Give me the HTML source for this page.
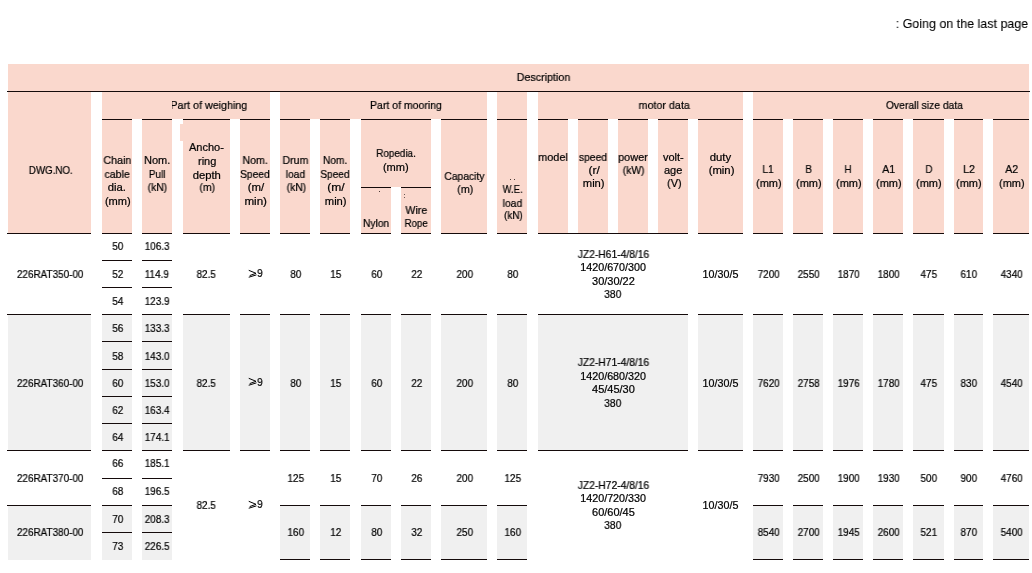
<!DOCTYPE html>
<html><head><meta charset="utf-8"><title>Table</title>
<style>
html,body{margin:0;padding:0;background:#fff;}
body{width:1032px;height:573px;position:relative;overflow:hidden;font-family:"Liberation Sans",sans-serif;color:#000;}
.r{position:absolute;}
.t{position:absolute;width:200px;height:14px;line-height:14px;text-align:center;white-space:nowrap;}
.t span{display:inline-block;transform-origin:50% 50%;will-change:transform;-webkit-text-stroke:0.22px #000;}
.tt{position:absolute;width:400px;height:18px;line-height:18px;text-align:right;white-space:nowrap;}
.tt span{display:inline-block;transform-origin:100% 50%;will-change:transform;-webkit-text-stroke:0.1px #000;}
</style></head><body>
<div class="r" style="left:7.5px;top:64px;width:1021.20px;height:27.00px;background:#fad8cd"></div>
<div class="r" style="left:6.80px;top:91px;width:1023.40px;height:1px;background:#140a0a"></div>
<div class="r" style="left:7.5px;top:92px;width:83.90px;height:141.00px;background:#fad8cd"></div>
<div class="r" style="left:102px;top:92px;width:167.70px;height:27.00px;background:#fad8cd"></div>
<div class="r" style="left:280px;top:92px;width:207.00px;height:27.00px;background:#fad8cd"></div>
<div class="r" style="left:497px;top:92px;width:30.00px;height:27.00px;background:#fad8cd"></div>
<div class="r" style="left:538px;top:92px;width:205.00px;height:27.00px;background:#fad8cd"></div>
<div class="r" style="left:753px;top:92px;width:276.00px;height:27.00px;background:#fad8cd"></div>
<div class="r" style="left:102px;top:119px;width:29.50px;height:114.00px;background:#fad8cd"></div>
<div class="r" style="left:102.00px;top:119px;width:29.50px;height:1px;background:#140a0a"></div>
<div class="r" style="left:141.5px;top:119px;width:30.50px;height:114.00px;background:#fad8cd"></div>
<div class="r" style="left:141.50px;top:119px;width:30.50px;height:1px;background:#140a0a"></div>
<div class="r" style="left:183px;top:119px;width:46.70px;height:114.00px;background:#fad8cd"></div>
<div class="r" style="left:183.00px;top:119px;width:46.70px;height:1px;background:#140a0a"></div>
<div class="r" style="left:240px;top:119px;width:29.70px;height:114.00px;background:#fad8cd"></div>
<div class="r" style="left:240.00px;top:119px;width:29.70px;height:1px;background:#140a0a"></div>
<div class="r" style="left:280px;top:119px;width:30.00px;height:114.00px;background:#fad8cd"></div>
<div class="r" style="left:280.00px;top:119px;width:30.00px;height:1px;background:#140a0a"></div>
<div class="r" style="left:320px;top:119px;width:30.00px;height:114.00px;background:#fad8cd"></div>
<div class="r" style="left:320.00px;top:119px;width:30.00px;height:1px;background:#140a0a"></div>
<div class="r" style="left:441px;top:119px;width:46.00px;height:114.00px;background:#fad8cd"></div>
<div class="r" style="left:441.00px;top:119px;width:46.00px;height:1px;background:#140a0a"></div>
<div class="r" style="left:497px;top:119px;width:30.00px;height:114.00px;background:#fad8cd"></div>
<div class="r" style="left:497.00px;top:119px;width:30.00px;height:1px;background:#140a0a"></div>
<div class="r" style="left:538px;top:119px;width:30.00px;height:114.00px;background:#fad8cd"></div>
<div class="r" style="left:538.00px;top:119px;width:30.00px;height:1px;background:#140a0a"></div>
<div class="r" style="left:578px;top:119px;width:30.00px;height:114.00px;background:#fad8cd"></div>
<div class="r" style="left:578.00px;top:119px;width:30.00px;height:1px;background:#140a0a"></div>
<div class="r" style="left:618px;top:119px;width:30.00px;height:114.00px;background:#fad8cd"></div>
<div class="r" style="left:618.00px;top:119px;width:30.00px;height:1px;background:#140a0a"></div>
<div class="r" style="left:658px;top:119px;width:30.00px;height:114.00px;background:#fad8cd"></div>
<div class="r" style="left:658.00px;top:119px;width:30.00px;height:1px;background:#140a0a"></div>
<div class="r" style="left:698px;top:119px;width:45.00px;height:114.00px;background:#fad8cd"></div>
<div class="r" style="left:698.00px;top:119px;width:45.00px;height:1px;background:#140a0a"></div>
<div class="r" style="left:753px;top:119px;width:30.00px;height:114.00px;background:#fad8cd"></div>
<div class="r" style="left:753.00px;top:119px;width:30.00px;height:1px;background:#140a0a"></div>
<div class="r" style="left:793px;top:119px;width:30.00px;height:114.00px;background:#fad8cd"></div>
<div class="r" style="left:793.00px;top:119px;width:30.00px;height:1px;background:#140a0a"></div>
<div class="r" style="left:833px;top:119px;width:30.00px;height:114.00px;background:#fad8cd"></div>
<div class="r" style="left:833.00px;top:119px;width:30.00px;height:1px;background:#140a0a"></div>
<div class="r" style="left:873px;top:119px;width:30.00px;height:114.00px;background:#fad8cd"></div>
<div class="r" style="left:873.00px;top:119px;width:30.00px;height:1px;background:#140a0a"></div>
<div class="r" style="left:913px;top:119px;width:31.00px;height:114.00px;background:#fad8cd"></div>
<div class="r" style="left:913.00px;top:119px;width:31.00px;height:1px;background:#140a0a"></div>
<div class="r" style="left:954px;top:119px;width:29.00px;height:114.00px;background:#fad8cd"></div>
<div class="r" style="left:954.00px;top:119px;width:29.00px;height:1px;background:#140a0a"></div>
<div class="r" style="left:993.2px;top:119px;width:35.80px;height:114.00px;background:#fad8cd"></div>
<div class="r" style="left:993.20px;top:119px;width:35.80px;height:1px;background:#140a0a"></div>
<div class="r" style="left:361px;top:119px;width:70.00px;height:68.00px;background:#fad8cd"></div>
<div class="r" style="left:361.00px;top:119px;width:70.00px;height:1px;background:#140a0a"></div>
<div class="r" style="left:361px;top:187px;width:30.00px;height:46.00px;background:#fad8cd"></div>
<div class="r" style="left:361.00px;top:187px;width:30.00px;height:1px;background:#140a0a"></div>
<div class="r" style="left:401px;top:187px;width:30.00px;height:46.00px;background:#fad8cd"></div>
<div class="r" style="left:401.00px;top:187px;width:30.00px;height:1px;background:#140a0a"></div>
<div class="r" style="left:180px;top:123.5px;width:49.80px;height:17.00px;background:#fad8cd"></div>
<div class="r" style="left:509.6px;top:179px;width:1px;height:1px;background:#4a3a36"></div>
<div class="r" style="left:513.6px;top:179px;width:1px;height:1px;background:#4a3a36"></div>
<div class="r" style="left:379.3px;top:191px;width:1px;height:1px;background:#4a3a36"></div>
<div class="r" style="left:403.7px;top:194px;width:1px;height:1px;background:#6a5a56"></div>
<div class="r" style="left:403.7px;top:196.5px;width:1px;height:1px;background:#6a5a56"></div>
<div class="r" style="left:7.5px;top:314px;width:83.90px;height:136.00px;background:#f0f0f0"></div>
<div class="r" style="left:102px;top:314px;width:29.50px;height:136.00px;background:#f0f0f0"></div>
<div class="r" style="left:141.5px;top:314px;width:30.50px;height:136.00px;background:#f0f0f0"></div>
<div class="r" style="left:183px;top:314px;width:46.70px;height:136.00px;background:#f0f0f0"></div>
<div class="r" style="left:240px;top:314px;width:29.70px;height:136.00px;background:#f0f0f0"></div>
<div class="r" style="left:280px;top:314px;width:30.00px;height:136.00px;background:#f0f0f0"></div>
<div class="r" style="left:320px;top:314px;width:30.00px;height:136.00px;background:#f0f0f0"></div>
<div class="r" style="left:361px;top:314px;width:30.00px;height:136.00px;background:#f0f0f0"></div>
<div class="r" style="left:401px;top:314px;width:30.00px;height:136.00px;background:#f0f0f0"></div>
<div class="r" style="left:441px;top:314px;width:46.00px;height:136.00px;background:#f0f0f0"></div>
<div class="r" style="left:497px;top:314px;width:30.00px;height:136.00px;background:#f0f0f0"></div>
<div class="r" style="left:698px;top:314px;width:45.00px;height:136.00px;background:#f0f0f0"></div>
<div class="r" style="left:753px;top:314px;width:30.00px;height:136.00px;background:#f0f0f0"></div>
<div class="r" style="left:793px;top:314px;width:30.00px;height:136.00px;background:#f0f0f0"></div>
<div class="r" style="left:833px;top:314px;width:30.00px;height:136.00px;background:#f0f0f0"></div>
<div class="r" style="left:873px;top:314px;width:30.00px;height:136.00px;background:#f0f0f0"></div>
<div class="r" style="left:913px;top:314px;width:31.00px;height:136.00px;background:#f0f0f0"></div>
<div class="r" style="left:954px;top:314px;width:29.00px;height:136.00px;background:#f0f0f0"></div>
<div class="r" style="left:993.2px;top:314px;width:35.80px;height:136.00px;background:#f0f0f0"></div>
<div class="r" style="left:538px;top:314px;width:150.00px;height:136.00px;background:#f0f0f0"></div>
<div class="r" style="left:7.5px;top:505px;width:83.90px;height:55.00px;background:#f0f0f0"></div>
<div class="r" style="left:102px;top:505px;width:29.50px;height:55.00px;background:#f0f0f0"></div>
<div class="r" style="left:141.5px;top:505px;width:30.50px;height:55.00px;background:#f0f0f0"></div>
<div class="r" style="left:280px;top:505px;width:30.00px;height:54.00px;background:#f0f0f0"></div>
<div class="r" style="left:320px;top:505px;width:30.00px;height:54.00px;background:#f0f0f0"></div>
<div class="r" style="left:361px;top:505px;width:30.00px;height:54.00px;background:#f0f0f0"></div>
<div class="r" style="left:401px;top:505px;width:30.00px;height:54.00px;background:#f0f0f0"></div>
<div class="r" style="left:441px;top:505px;width:46.00px;height:54.00px;background:#f0f0f0"></div>
<div class="r" style="left:497px;top:505px;width:30.00px;height:54.00px;background:#f0f0f0"></div>
<div class="r" style="left:753px;top:505px;width:30.00px;height:54.00px;background:#f0f0f0"></div>
<div class="r" style="left:793px;top:505px;width:30.00px;height:54.00px;background:#f0f0f0"></div>
<div class="r" style="left:833px;top:505px;width:30.00px;height:54.00px;background:#f0f0f0"></div>
<div class="r" style="left:873px;top:505px;width:30.00px;height:54.00px;background:#f0f0f0"></div>
<div class="r" style="left:913px;top:505px;width:31.00px;height:54.00px;background:#f0f0f0"></div>
<div class="r" style="left:954px;top:505px;width:29.00px;height:54.00px;background:#f0f0f0"></div>
<div class="r" style="left:993.2px;top:505px;width:35.80px;height:54.00px;background:#f0f0f0"></div>
<div class="r" style="left:6.60px;top:233px;width:84.80px;height:1px;background:#140a0a"></div>
<div class="r" style="left:102.00px;top:233px;width:29.50px;height:1px;background:#140a0a"></div>
<div class="r" style="left:141.50px;top:233px;width:30.50px;height:1px;background:#140a0a"></div>
<div class="r" style="left:183.00px;top:233px;width:46.70px;height:1px;background:#140a0a"></div>
<div class="r" style="left:240.00px;top:233px;width:29.70px;height:1px;background:#140a0a"></div>
<div class="r" style="left:280.00px;top:233px;width:30.00px;height:1px;background:#140a0a"></div>
<div class="r" style="left:320.00px;top:233px;width:30.00px;height:1px;background:#140a0a"></div>
<div class="r" style="left:361.00px;top:233px;width:30.00px;height:1px;background:#140a0a"></div>
<div class="r" style="left:401.00px;top:233px;width:30.00px;height:1px;background:#140a0a"></div>
<div class="r" style="left:441.00px;top:233px;width:46.00px;height:1px;background:#140a0a"></div>
<div class="r" style="left:497.00px;top:233px;width:30.00px;height:1px;background:#140a0a"></div>
<div class="r" style="left:698.00px;top:233px;width:45.00px;height:1px;background:#140a0a"></div>
<div class="r" style="left:753.00px;top:233px;width:30.00px;height:1px;background:#140a0a"></div>
<div class="r" style="left:793.00px;top:233px;width:30.00px;height:1px;background:#140a0a"></div>
<div class="r" style="left:833.00px;top:233px;width:30.00px;height:1px;background:#140a0a"></div>
<div class="r" style="left:873.00px;top:233px;width:30.00px;height:1px;background:#140a0a"></div>
<div class="r" style="left:913.00px;top:233px;width:31.00px;height:1px;background:#140a0a"></div>
<div class="r" style="left:954.00px;top:233px;width:29.00px;height:1px;background:#140a0a"></div>
<div class="r" style="left:993.20px;top:233px;width:35.80px;height:1px;background:#140a0a"></div>
<div class="r" style="left:538.00px;top:233px;width:150.00px;height:1px;background:#140a0a"></div>
<div class="r" style="left:6.60px;top:314px;width:84.80px;height:1px;background:#140a0a"></div>
<div class="r" style="left:102.00px;top:314px;width:29.50px;height:1px;background:#140a0a"></div>
<div class="r" style="left:141.50px;top:314px;width:30.50px;height:1px;background:#140a0a"></div>
<div class="r" style="left:183.00px;top:314px;width:46.70px;height:1px;background:#140a0a"></div>
<div class="r" style="left:240.00px;top:314px;width:29.70px;height:1px;background:#140a0a"></div>
<div class="r" style="left:280.00px;top:314px;width:30.00px;height:1px;background:#140a0a"></div>
<div class="r" style="left:320.00px;top:314px;width:30.00px;height:1px;background:#140a0a"></div>
<div class="r" style="left:361.00px;top:314px;width:30.00px;height:1px;background:#140a0a"></div>
<div class="r" style="left:401.00px;top:314px;width:30.00px;height:1px;background:#140a0a"></div>
<div class="r" style="left:441.00px;top:314px;width:46.00px;height:1px;background:#140a0a"></div>
<div class="r" style="left:497.00px;top:314px;width:30.00px;height:1px;background:#140a0a"></div>
<div class="r" style="left:698.00px;top:314px;width:45.00px;height:1px;background:#140a0a"></div>
<div class="r" style="left:753.00px;top:314px;width:30.00px;height:1px;background:#140a0a"></div>
<div class="r" style="left:793.00px;top:314px;width:30.00px;height:1px;background:#140a0a"></div>
<div class="r" style="left:833.00px;top:314px;width:30.00px;height:1px;background:#140a0a"></div>
<div class="r" style="left:873.00px;top:314px;width:30.00px;height:1px;background:#140a0a"></div>
<div class="r" style="left:913.00px;top:314px;width:31.00px;height:1px;background:#140a0a"></div>
<div class="r" style="left:954.00px;top:314px;width:29.00px;height:1px;background:#140a0a"></div>
<div class="r" style="left:993.20px;top:314px;width:35.80px;height:1px;background:#140a0a"></div>
<div class="r" style="left:538.00px;top:314px;width:150.00px;height:1px;background:#140a0a"></div>
<div class="r" style="left:6.60px;top:450px;width:84.80px;height:1px;background:#140a0a"></div>
<div class="r" style="left:102.00px;top:450px;width:29.50px;height:1px;background:#140a0a"></div>
<div class="r" style="left:141.50px;top:450px;width:30.50px;height:1px;background:#140a0a"></div>
<div class="r" style="left:183.00px;top:450px;width:46.70px;height:1px;background:#140a0a"></div>
<div class="r" style="left:240.00px;top:450px;width:29.70px;height:1px;background:#140a0a"></div>
<div class="r" style="left:280.00px;top:450px;width:30.00px;height:1px;background:#140a0a"></div>
<div class="r" style="left:320.00px;top:450px;width:30.00px;height:1px;background:#140a0a"></div>
<div class="r" style="left:361.00px;top:450px;width:30.00px;height:1px;background:#140a0a"></div>
<div class="r" style="left:401.00px;top:450px;width:30.00px;height:1px;background:#140a0a"></div>
<div class="r" style="left:441.00px;top:450px;width:46.00px;height:1px;background:#140a0a"></div>
<div class="r" style="left:497.00px;top:450px;width:30.00px;height:1px;background:#140a0a"></div>
<div class="r" style="left:698.00px;top:450px;width:45.00px;height:1px;background:#140a0a"></div>
<div class="r" style="left:753.00px;top:450px;width:30.00px;height:1px;background:#140a0a"></div>
<div class="r" style="left:793.00px;top:450px;width:30.00px;height:1px;background:#140a0a"></div>
<div class="r" style="left:833.00px;top:450px;width:30.00px;height:1px;background:#140a0a"></div>
<div class="r" style="left:873.00px;top:450px;width:30.00px;height:1px;background:#140a0a"></div>
<div class="r" style="left:913.00px;top:450px;width:31.00px;height:1px;background:#140a0a"></div>
<div class="r" style="left:954.00px;top:450px;width:29.00px;height:1px;background:#140a0a"></div>
<div class="r" style="left:993.20px;top:450px;width:35.80px;height:1px;background:#140a0a"></div>
<div class="r" style="left:538.00px;top:450px;width:150.00px;height:1px;background:#140a0a"></div>
<div class="r" style="left:102.00px;top:260px;width:29.50px;height:1px;background:#140a0a"></div>
<div class="r" style="left:141.50px;top:260px;width:30.50px;height:1px;background:#140a0a"></div>
<div class="r" style="left:102.00px;top:287px;width:29.50px;height:1px;background:#140a0a"></div>
<div class="r" style="left:141.50px;top:287px;width:30.50px;height:1px;background:#140a0a"></div>
<div class="r" style="left:102.00px;top:341px;width:29.50px;height:1px;background:#140a0a"></div>
<div class="r" style="left:141.50px;top:341px;width:30.50px;height:1px;background:#140a0a"></div>
<div class="r" style="left:102.00px;top:369px;width:29.50px;height:1px;background:#140a0a"></div>
<div class="r" style="left:141.50px;top:369px;width:30.50px;height:1px;background:#140a0a"></div>
<div class="r" style="left:102.00px;top:396px;width:29.50px;height:1px;background:#140a0a"></div>
<div class="r" style="left:141.50px;top:396px;width:30.50px;height:1px;background:#140a0a"></div>
<div class="r" style="left:102.00px;top:423px;width:29.50px;height:1px;background:#140a0a"></div>
<div class="r" style="left:141.50px;top:423px;width:30.50px;height:1px;background:#140a0a"></div>
<div class="r" style="left:102.00px;top:478px;width:29.50px;height:1px;background:#140a0a"></div>
<div class="r" style="left:141.50px;top:478px;width:30.50px;height:1px;background:#140a0a"></div>
<div class="r" style="left:102.00px;top:532px;width:29.50px;height:1px;background:#140a0a"></div>
<div class="r" style="left:141.50px;top:532px;width:30.50px;height:1px;background:#140a0a"></div>
<div class="r" style="left:6.60px;top:505px;width:84.80px;height:1px;background:#140a0a"></div>
<div class="r" style="left:102.00px;top:505px;width:29.50px;height:1px;background:#140a0a"></div>
<div class="r" style="left:141.50px;top:505px;width:30.50px;height:1px;background:#140a0a"></div>
<div class="r" style="left:280.00px;top:505px;width:30.00px;height:1px;background:#140a0a"></div>
<div class="r" style="left:320.00px;top:505px;width:30.00px;height:1px;background:#140a0a"></div>
<div class="r" style="left:361.00px;top:505px;width:30.00px;height:1px;background:#140a0a"></div>
<div class="r" style="left:401.00px;top:505px;width:30.00px;height:1px;background:#140a0a"></div>
<div class="r" style="left:441.00px;top:505px;width:46.00px;height:1px;background:#140a0a"></div>
<div class="r" style="left:497.00px;top:505px;width:30.00px;height:1px;background:#140a0a"></div>
<div class="r" style="left:753.00px;top:505px;width:30.00px;height:1px;background:#140a0a"></div>
<div class="r" style="left:793.00px;top:505px;width:30.00px;height:1px;background:#140a0a"></div>
<div class="r" style="left:833.00px;top:505px;width:30.00px;height:1px;background:#140a0a"></div>
<div class="r" style="left:873.00px;top:505px;width:30.00px;height:1px;background:#140a0a"></div>
<div class="r" style="left:913.00px;top:505px;width:31.00px;height:1px;background:#140a0a"></div>
<div class="r" style="left:954.00px;top:505px;width:29.00px;height:1px;background:#140a0a"></div>
<div class="r" style="left:993.20px;top:505px;width:35.80px;height:1px;background:#140a0a"></div>
<div class="r" style="left:280.00px;top:559px;width:30.00px;height:1px;background:#140a0a"></div>
<div class="r" style="left:320.00px;top:559px;width:30.00px;height:1px;background:#140a0a"></div>
<div class="r" style="left:361.00px;top:559px;width:30.00px;height:1px;background:#140a0a"></div>
<div class="r" style="left:401.00px;top:559px;width:30.00px;height:1px;background:#140a0a"></div>
<div class="r" style="left:441.00px;top:559px;width:46.00px;height:1px;background:#140a0a"></div>
<div class="r" style="left:497.00px;top:559px;width:30.00px;height:1px;background:#140a0a"></div>
<div class="r" style="left:753.00px;top:559px;width:30.00px;height:1px;background:#140a0a"></div>
<div class="r" style="left:793.00px;top:559px;width:30.00px;height:1px;background:#140a0a"></div>
<div class="r" style="left:833.00px;top:559px;width:30.00px;height:1px;background:#140a0a"></div>
<div class="r" style="left:873.00px;top:559px;width:30.00px;height:1px;background:#140a0a"></div>
<div class="r" style="left:913.00px;top:559px;width:31.00px;height:1px;background:#140a0a"></div>
<div class="r" style="left:954.00px;top:559px;width:29.00px;height:1px;background:#140a0a"></div>
<div class="r" style="left:993.20px;top:559px;width:35.80px;height:1px;background:#140a0a"></div>
<div class="t" id="t0" style="left:443.00px;top:69.90px;font-size:11.4px;"><span style="transform:scaleX(0.9389)">Description</span></div>
<div class="t" id="t1" style="left:-49.00px;top:162.60px;font-size:11px;"><span style="transform:scaleX(0.8848)">DWG.NO.</span></div>
<div class="t" id="t2" style="left:108.60px;top:98.00px;font-size:11.4px;"><span style="transform:scaleX(0.9402)">Part of weighing</span></div>
<div class="t" id="t3" style="left:306.20px;top:97.90px;font-size:11.4px;"><span style="transform:scaleX(0.9220)">Part of mooring</span></div>
<div class="t" id="t4" style="left:563.75px;top:97.90px;font-size:11.4px;"><span style="transform:scaleX(0.9421)">motor data</span></div>
<div class="t" id="t5" style="left:824.00px;top:97.80px;font-size:11.4px;"><span style="transform:scaleX(0.9081)">Overall size data</span></div>
<div class="t" id="t6" style="left:17.15px;top:153.30px;font-size:11px;"><span style="transform:scaleX(0.9704)">Chain</span></div>
<div class="t" id="t7" style="left:17.15px;top:167.10px;font-size:11px;"><span style="transform:scaleX(0.9583)">cable</span></div>
<div class="t" id="t8" style="left:17.15px;top:180.30px;font-size:11px;"><span style="transform:scaleX(1.0254)">dia.</span></div>
<div class="t" id="t9" style="left:17.65px;top:194.20px;font-size:11px;"><span style="transform:scaleX(1.0056)">(mm)</span></div>
<div class="t" id="t10" style="left:57.15px;top:153.30px;font-size:11px;"><span style="transform:scaleX(0.9931)">Nom.</span></div>
<div class="t" id="t11" style="left:57.15px;top:166.80px;font-size:11px;"><span style="transform:scaleX(0.8995)">Pull</span></div>
<div class="t" id="t12" style="left:57.65px;top:180.00px;font-size:11px;"><span style="transform:scaleX(0.9383)">(kN)</span></div>
<div class="t" id="t13" style="left:106.75px;top:140.20px;font-size:11px;"><span style="transform:scaleX(0.9983)">Ancho-</span></div>
<div class="t" id="t14" style="left:106.75px;top:154.20px;font-size:11px;"><span style="transform:scaleX(0.9976)">ring</span></div>
<div class="t" id="t15" style="left:106.75px;top:167.60px;font-size:11px;"><span style="transform:scaleX(1.0243)">depth</span></div>
<div class="t" id="t16" style="left:107.25px;top:180.00px;font-size:11px;"><span style="transform:scaleX(0.9455)">(m)</span></div>
<div class="t" id="t17" style="left:155.25px;top:153.30px;font-size:11px;"><span style="transform:scaleX(0.9589)">Nom.</span></div>
<div class="t" id="t18" style="left:155.25px;top:166.90px;font-size:11px;"><span style="transform:scaleX(0.9305)">Speed</span></div>
<div class="t" id="t19" style="left:155.75px;top:180.00px;font-size:11px;"><span style="transform:scaleX(1.0383)">(m/</span></div>
<div class="t" id="t20" style="left:155.25px;top:194.00px;font-size:11px;"><span style="transform:scaleX(1.0565)">min)</span></div>
<div class="t" id="t21" style="left:195.40px;top:153.30px;font-size:11px;"><span style="transform:scaleX(0.9594)">Drum</span></div>
<div class="t" id="t22" style="left:195.40px;top:166.80px;font-size:11px;"><span style="transform:scaleX(0.9280)">load</span></div>
<div class="t" id="t23" style="left:195.90px;top:180.00px;font-size:11px;"><span style="transform:scaleX(0.9383)">(kN)</span></div>
<div class="t" id="t24" style="left:235.40px;top:153.30px;font-size:11px;"><span style="transform:scaleX(0.9246)">Nom.</span></div>
<div class="t" id="t25" style="left:235.40px;top:167.20px;font-size:11px;"><span style="transform:scaleX(0.9147)">Speed</span></div>
<div class="t" id="t26" style="left:235.90px;top:180.00px;font-size:11px;"><span style="transform:scaleX(1.0950)">(m/</span></div>
<div class="t" id="t27" style="left:235.40px;top:194.00px;font-size:11px;"><span style="transform:scaleX(1.0191)">min)</span></div>
<div class="t" id="t28" style="left:276.40px;top:216.10px;font-size:11px;"><span style="transform:scaleX(0.9280)">Nylon</span></div>
<div class="t" id="t29" style="left:316.40px;top:203.40px;font-size:11px;"><span style="transform:scaleX(0.9642)">Wire</span></div>
<div class="t" id="t30" style="left:316.40px;top:216.10px;font-size:11px;"><span style="transform:scaleX(0.8784)">Rope</span></div>
<div class="t" id="t31" style="left:364.40px;top:169.40px;font-size:11px;"><span style="transform:scaleX(0.9370)">Capacity</span></div>
<div class="t" id="t32" style="left:364.90px;top:181.80px;font-size:11px;"><span style="transform:scaleX(0.9697)">(m)</span></div>
<div class="t" id="t33" style="left:412.40px;top:182.30px;font-size:11px;"><span style="transform:scaleX(0.8608)">W.E.</span></div>
<div class="t" id="t34" style="left:412.40px;top:196.00px;font-size:11px;"><span style="transform:scaleX(0.9376)">load</span></div>
<div class="t" id="t35" style="left:412.90px;top:208.40px;font-size:11px;"><span style="transform:scaleX(0.9047)">(kN)</span></div>
<div class="t" id="t36" style="left:453.40px;top:149.80px;font-size:11px;"><span style="transform:scaleX(0.9877)">model</span></div>
<div class="t" id="t37" style="left:493.40px;top:149.80px;font-size:11px;"><span style="transform:scaleX(0.9405)">speed</span></div>
<div class="t" id="t38" style="left:493.90px;top:162.70px;font-size:11px;"><span style="transform:scaleX(1.0875)">(r/</span></div>
<div class="t" id="t39" style="left:493.40px;top:176.00px;font-size:11px;"><span style="transform:scaleX(1.0191)">min)</span></div>
<div class="t" id="t40" style="left:533.40px;top:149.80px;font-size:11px;"><span style="transform:scaleX(0.9877)">power</span></div>
<div class="t" id="t41" style="left:533.90px;top:162.70px;font-size:11px;"><span style="transform:scaleX(0.9389)">(kW)</span></div>
<div class="t" id="t42" style="left:573.40px;top:149.80px;font-size:11px;"><span style="transform:scaleX(1.0009)">volt-</span></div>
<div class="t" id="t43" style="left:573.40px;top:163.00px;font-size:11px;"><span style="transform:scaleX(0.9968)">age</span></div>
<div class="t" id="t44" style="left:573.90px;top:175.70px;font-size:11px;"><span style="transform:scaleX(0.9815)">(V)</span></div>
<div class="t" id="t45" style="left:620.90px;top:149.80px;font-size:11px;"><span style="transform:scaleX(1.0290)">duty</span></div>
<div class="t" id="t46" style="left:621.40px;top:162.70px;font-size:11px;"><span style="transform:scaleX(1.0294)">(min)</span></div>
<div class="t" id="t47" style="left:296.00px;top:146.30px;font-size:11px;"><span style="transform:scaleX(0.8968)">Ropedia.</span></div>
<div class="t" id="t48" style="left:296.00px;top:159.80px;font-size:11px;"><span style="transform:scaleX(1.0056)">(mm)</span></div>
<div class="t" id="t49" style="left:668.30px;top:161.90px;font-size:11px;"><span style="transform:scaleX(0.9224)">L1</span></div>
<div class="t" id="t50" style="left:668.50px;top:176.20px;font-size:11px;"><span style="transform:scaleX(0.9900)">(mm)</span></div>
<div class="t" id="t51" style="left:708.30px;top:161.90px;font-size:11px;"><span style="transform:scaleX(0.8715)">B</span></div>
<div class="t" id="t52" style="left:708.50px;top:176.20px;font-size:11px;"><span style="transform:scaleX(0.9900)">(mm)</span></div>
<div class="t" id="t53" style="left:748.30px;top:161.90px;font-size:11px;"><span style="transform:scaleX(0.8676)">H</span></div>
<div class="t" id="t54" style="left:748.50px;top:176.20px;font-size:11px;"><span style="transform:scaleX(0.9900)">(mm)</span></div>
<div class="t" id="t55" style="left:788.30px;top:161.90px;font-size:11px;"><span style="transform:scaleX(0.9652)">A1</span></div>
<div class="t" id="t56" style="left:788.50px;top:176.20px;font-size:11px;"><span style="transform:scaleX(0.9900)">(mm)</span></div>
<div class="t" id="t57" style="left:828.80px;top:161.90px;font-size:11px;"><span style="transform:scaleX(0.8676)">D</span></div>
<div class="t" id="t58" style="left:829.00px;top:176.20px;font-size:11px;"><span style="transform:scaleX(0.9900)">(mm)</span></div>
<div class="t" id="t59" style="left:868.80px;top:161.90px;font-size:11px;"><span style="transform:scaleX(0.9633)">L2</span></div>
<div class="t" id="t60" style="left:869.00px;top:176.20px;font-size:11px;"><span style="transform:scaleX(0.9900)">(mm)</span></div>
<div class="t" id="t61" style="left:911.40px;top:161.90px;font-size:11px;"><span style="transform:scaleX(0.9652)">A2</span></div>
<div class="t" id="t62" style="left:911.60px;top:176.20px;font-size:11px;"><span style="transform:scaleX(0.9900)">(mm)</span></div>
<div class="t" id="t63" style="left:17.35px;top:238.90px;font-size:10.5px;"><span style="transform:scaleX(0.9400)">50</span></div>
<div class="t" id="t64" style="left:57.15px;top:238.90px;font-size:10.5px;"><span style="transform:scaleX(0.9400)">106.3</span></div>
<div class="t" id="t65" style="left:17.35px;top:267.00px;font-size:10.5px;"><span style="transform:scaleX(0.9400)">52</span></div>
<div class="t" id="t66" style="left:57.15px;top:267.00px;font-size:10.5px;"><span style="transform:scaleX(0.9400)">114.9</span></div>
<div class="t" id="t67" style="left:17.35px;top:294.00px;font-size:10.5px;"><span style="transform:scaleX(0.9400)">54</span></div>
<div class="t" id="t68" style="left:57.15px;top:294.00px;font-size:10.5px;"><span style="transform:scaleX(0.9400)">123.9</span></div>
<div class="t" id="t69" style="left:17.35px;top:321.00px;font-size:10.5px;"><span style="transform:scaleX(0.9400)">56</span></div>
<div class="t" id="t70" style="left:57.15px;top:321.00px;font-size:10.5px;"><span style="transform:scaleX(0.9400)">133.3</span></div>
<div class="t" id="t71" style="left:17.35px;top:348.50px;font-size:10.5px;"><span style="transform:scaleX(0.9400)">58</span></div>
<div class="t" id="t72" style="left:57.15px;top:348.50px;font-size:10.5px;"><span style="transform:scaleX(0.9400)">143.0</span></div>
<div class="t" id="t73" style="left:17.35px;top:376.00px;font-size:10.5px;"><span style="transform:scaleX(0.9400)">60</span></div>
<div class="t" id="t74" style="left:57.15px;top:376.00px;font-size:10.5px;"><span style="transform:scaleX(0.9400)">153.0</span></div>
<div class="t" id="t75" style="left:17.35px;top:403.00px;font-size:10.5px;"><span style="transform:scaleX(0.9400)">62</span></div>
<div class="t" id="t76" style="left:57.15px;top:403.00px;font-size:10.5px;"><span style="transform:scaleX(0.9400)">163.4</span></div>
<div class="t" id="t77" style="left:17.35px;top:430.00px;font-size:10.5px;"><span style="transform:scaleX(0.9400)">64</span></div>
<div class="t" id="t78" style="left:57.15px;top:430.00px;font-size:10.5px;"><span style="transform:scaleX(0.9400)">174.1</span></div>
<div class="t" id="t79" style="left:17.35px;top:456.30px;font-size:10.5px;"><span style="transform:scaleX(0.9400)">66</span></div>
<div class="t" id="t80" style="left:57.15px;top:456.30px;font-size:10.5px;"><span style="transform:scaleX(0.9400)">185.1</span></div>
<div class="t" id="t81" style="left:17.35px;top:483.80px;font-size:10.5px;"><span style="transform:scaleX(0.9400)">68</span></div>
<div class="t" id="t82" style="left:57.15px;top:483.80px;font-size:10.5px;"><span style="transform:scaleX(0.9400)">196.5</span></div>
<div class="t" id="t83" style="left:17.35px;top:512.00px;font-size:10.5px;"><span style="transform:scaleX(0.9400)">70</span></div>
<div class="t" id="t84" style="left:57.15px;top:512.00px;font-size:10.5px;"><span style="transform:scaleX(0.9400)">208.3</span></div>
<div class="t" id="t85" style="left:17.35px;top:538.50px;font-size:10.5px;"><span style="transform:scaleX(0.9400)">73</span></div>
<div class="t" id="t86" style="left:57.15px;top:538.50px;font-size:10.5px;"><span style="transform:scaleX(0.9400)">226.5</span></div>
<div class="t" id="t87" style="left:-49.55px;top:267.00px;font-size:10.5px;"><span style="transform:scaleX(0.9448)">226RAT350-00</span></div>
<div class="t" id="t88" style="left:195.50px;top:267.00px;font-size:10.5px;"><span style="transform:scaleX(0.9400)">80</span></div>
<div class="t" id="t89" style="left:235.50px;top:267.00px;font-size:10.5px;"><span style="transform:scaleX(0.9400)">15</span></div>
<div class="t" id="t90" style="left:276.50px;top:267.00px;font-size:10.5px;"><span style="transform:scaleX(0.9400)">60</span></div>
<div class="t" id="t91" style="left:316.50px;top:267.00px;font-size:10.5px;"><span style="transform:scaleX(0.9400)">22</span></div>
<div class="t" id="t92" style="left:364.50px;top:267.00px;font-size:10.5px;"><span style="transform:scaleX(0.9400)">200</span></div>
<div class="t" id="t93" style="left:412.50px;top:267.00px;font-size:10.5px;"><span style="transform:scaleX(0.9400)">80</span></div>
<div class="t" id="t94" style="left:668.50px;top:267.00px;font-size:10.5px;"><span style="transform:scaleX(0.9400)">7200</span></div>
<div class="t" id="t95" style="left:708.50px;top:267.00px;font-size:10.5px;"><span style="transform:scaleX(0.9400)">2550</span></div>
<div class="t" id="t96" style="left:748.50px;top:267.00px;font-size:10.5px;"><span style="transform:scaleX(0.9400)">1870</span></div>
<div class="t" id="t97" style="left:788.50px;top:267.00px;font-size:10.5px;"><span style="transform:scaleX(0.9400)">1800</span></div>
<div class="t" id="t98" style="left:829.00px;top:267.00px;font-size:10.5px;"><span style="transform:scaleX(0.9400)">475</span></div>
<div class="t" id="t99" style="left:869.00px;top:267.00px;font-size:10.5px;"><span style="transform:scaleX(0.9400)">610</span></div>
<div class="t" id="t100" style="left:911.60px;top:267.00px;font-size:10.5px;"><span style="transform:scaleX(0.9400)">4340</span></div>
<div class="t" id="t101" style="left:-49.55px;top:375.50px;font-size:10.5px;"><span style="transform:scaleX(0.9448)">226RAT360-00</span></div>
<div class="t" id="t102" style="left:195.50px;top:375.50px;font-size:10.5px;"><span style="transform:scaleX(0.9400)">80</span></div>
<div class="t" id="t103" style="left:235.50px;top:375.50px;font-size:10.5px;"><span style="transform:scaleX(0.9400)">15</span></div>
<div class="t" id="t104" style="left:276.50px;top:375.50px;font-size:10.5px;"><span style="transform:scaleX(0.9400)">60</span></div>
<div class="t" id="t105" style="left:316.50px;top:375.50px;font-size:10.5px;"><span style="transform:scaleX(0.9400)">22</span></div>
<div class="t" id="t106" style="left:364.50px;top:375.50px;font-size:10.5px;"><span style="transform:scaleX(0.9400)">200</span></div>
<div class="t" id="t107" style="left:412.50px;top:375.50px;font-size:10.5px;"><span style="transform:scaleX(0.9400)">80</span></div>
<div class="t" id="t108" style="left:668.50px;top:375.50px;font-size:10.5px;"><span style="transform:scaleX(0.9400)">7620</span></div>
<div class="t" id="t109" style="left:708.50px;top:375.50px;font-size:10.5px;"><span style="transform:scaleX(0.9400)">2758</span></div>
<div class="t" id="t110" style="left:748.50px;top:375.50px;font-size:10.5px;"><span style="transform:scaleX(0.9400)">1976</span></div>
<div class="t" id="t111" style="left:788.50px;top:375.50px;font-size:10.5px;"><span style="transform:scaleX(0.9400)">1780</span></div>
<div class="t" id="t112" style="left:829.00px;top:375.50px;font-size:10.5px;"><span style="transform:scaleX(0.9400)">475</span></div>
<div class="t" id="t113" style="left:869.00px;top:375.50px;font-size:10.5px;"><span style="transform:scaleX(0.9400)">830</span></div>
<div class="t" id="t114" style="left:911.60px;top:375.50px;font-size:10.5px;"><span style="transform:scaleX(0.9400)">4540</span></div>
<div class="t" id="t115" style="left:-49.55px;top:470.50px;font-size:10.5px;"><span style="transform:scaleX(0.9448)">226RAT370-00</span></div>
<div class="t" id="t116" style="left:195.50px;top:470.50px;font-size:10.5px;"><span style="transform:scaleX(0.9400)">125</span></div>
<div class="t" id="t117" style="left:235.50px;top:470.50px;font-size:10.5px;"><span style="transform:scaleX(0.9400)">15</span></div>
<div class="t" id="t118" style="left:276.50px;top:470.50px;font-size:10.5px;"><span style="transform:scaleX(0.9400)">70</span></div>
<div class="t" id="t119" style="left:316.50px;top:470.50px;font-size:10.5px;"><span style="transform:scaleX(0.9400)">26</span></div>
<div class="t" id="t120" style="left:364.50px;top:470.50px;font-size:10.5px;"><span style="transform:scaleX(0.9400)">200</span></div>
<div class="t" id="t121" style="left:412.50px;top:470.50px;font-size:10.5px;"><span style="transform:scaleX(0.9400)">125</span></div>
<div class="t" id="t122" style="left:668.50px;top:470.50px;font-size:10.5px;"><span style="transform:scaleX(0.9400)">7930</span></div>
<div class="t" id="t123" style="left:708.50px;top:470.50px;font-size:10.5px;"><span style="transform:scaleX(0.9400)">2500</span></div>
<div class="t" id="t124" style="left:748.50px;top:470.50px;font-size:10.5px;"><span style="transform:scaleX(0.9400)">1900</span></div>
<div class="t" id="t125" style="left:788.50px;top:470.50px;font-size:10.5px;"><span style="transform:scaleX(0.9400)">1930</span></div>
<div class="t" id="t126" style="left:829.00px;top:470.50px;font-size:10.5px;"><span style="transform:scaleX(0.9400)">500</span></div>
<div class="t" id="t127" style="left:869.00px;top:470.50px;font-size:10.5px;"><span style="transform:scaleX(0.9400)">900</span></div>
<div class="t" id="t128" style="left:911.60px;top:470.50px;font-size:10.5px;"><span style="transform:scaleX(0.9400)">4760</span></div>
<div class="t" id="t129" style="left:-49.55px;top:524.50px;font-size:10.5px;"><span style="transform:scaleX(0.9448)">226RAT380-00</span></div>
<div class="t" id="t130" style="left:195.50px;top:524.50px;font-size:10.5px;"><span style="transform:scaleX(0.9400)">160</span></div>
<div class="t" id="t131" style="left:235.50px;top:524.50px;font-size:10.5px;"><span style="transform:scaleX(0.9400)">12</span></div>
<div class="t" id="t132" style="left:276.50px;top:524.50px;font-size:10.5px;"><span style="transform:scaleX(0.9400)">80</span></div>
<div class="t" id="t133" style="left:316.50px;top:524.50px;font-size:10.5px;"><span style="transform:scaleX(0.9400)">32</span></div>
<div class="t" id="t134" style="left:364.50px;top:524.50px;font-size:10.5px;"><span style="transform:scaleX(0.9400)">250</span></div>
<div class="t" id="t135" style="left:412.50px;top:524.50px;font-size:10.5px;"><span style="transform:scaleX(0.9400)">160</span></div>
<div class="t" id="t136" style="left:668.50px;top:524.50px;font-size:10.5px;"><span style="transform:scaleX(0.9400)">8540</span></div>
<div class="t" id="t137" style="left:708.50px;top:524.50px;font-size:10.5px;"><span style="transform:scaleX(0.9400)">2700</span></div>
<div class="t" id="t138" style="left:748.50px;top:524.50px;font-size:10.5px;"><span style="transform:scaleX(0.9400)">1945</span></div>
<div class="t" id="t139" style="left:788.50px;top:524.50px;font-size:10.5px;"><span style="transform:scaleX(0.9400)">2600</span></div>
<div class="t" id="t140" style="left:829.00px;top:524.50px;font-size:10.5px;"><span style="transform:scaleX(0.9400)">521</span></div>
<div class="t" id="t141" style="left:869.00px;top:524.50px;font-size:10.5px;"><span style="transform:scaleX(0.9400)">870</span></div>
<div class="t" id="t142" style="left:911.60px;top:524.50px;font-size:10.5px;"><span style="transform:scaleX(0.9400)">5400</span></div>
<div class="t" id="t143" style="left:106.35px;top:267.00px;font-size:10.5px;"><span style="transform:scaleX(0.9400)">82.5</span></div>
<div class="t" id="t144" style="left:160.40px;top:266.10px;font-size:10.5px;"><span style="transform:scaleX(0.9400)">9</span></div>
<div class="t" id="t145" style="left:513.00px;top:246.90px;font-size:10.5px;"><span style="transform:scaleX(0.9808)">JZ2-H61-4/8/16</span></div>
<div class="t" id="t146" style="left:513.00px;top:260.30px;font-size:10.5px;"><span style="transform:scaleX(1.0244)">1420/670/300</span></div>
<div class="t" id="t147" style="left:513.00px;top:273.70px;font-size:10.5px;"><span style="transform:scaleX(1.0471)">30/30/22</span></div>
<div class="t" id="t148" style="left:513.00px;top:287.10px;font-size:10.5px;"><span style="transform:scaleX(0.9725)">380</span></div>
<div class="t" id="t149" style="left:620.50px;top:267.00px;font-size:10.5px;"><span style="transform:scaleX(1.0215)">10/30/5</span></div>
<div class="t" id="t150" style="left:106.35px;top:375.50px;font-size:10.5px;"><span style="transform:scaleX(0.9400)">82.5</span></div>
<div class="t" id="t151" style="left:160.40px;top:374.60px;font-size:10.5px;"><span style="transform:scaleX(0.9400)">9</span></div>
<div class="t" id="t152" style="left:513.00px;top:355.40px;font-size:10.5px;"><span style="transform:scaleX(0.9808)">JZ2-H71-4/8/16</span></div>
<div class="t" id="t153" style="left:513.00px;top:368.80px;font-size:10.5px;"><span style="transform:scaleX(1.0244)">1420/680/320</span></div>
<div class="t" id="t154" style="left:513.00px;top:382.20px;font-size:10.5px;"><span style="transform:scaleX(1.0471)">45/45/30</span></div>
<div class="t" id="t155" style="left:513.00px;top:395.60px;font-size:10.5px;"><span style="transform:scaleX(0.9725)">380</span></div>
<div class="t" id="t156" style="left:620.50px;top:375.50px;font-size:10.5px;"><span style="transform:scaleX(1.0215)">10/30/5</span></div>
<div class="t" id="t157" style="left:106.35px;top:498.00px;font-size:10.5px;"><span style="transform:scaleX(0.9400)">82.5</span></div>
<div class="t" id="t158" style="left:160.40px;top:497.10px;font-size:10.5px;"><span style="transform:scaleX(0.9400)">9</span></div>
<div class="t" id="t159" style="left:513.00px;top:477.90px;font-size:10.5px;"><span style="transform:scaleX(0.9808)">JZ2-H72-4/8/16</span></div>
<div class="t" id="t160" style="left:513.00px;top:491.30px;font-size:10.5px;"><span style="transform:scaleX(1.0244)">1420/720/330</span></div>
<div class="t" id="t161" style="left:513.00px;top:504.70px;font-size:10.5px;"><span style="transform:scaleX(1.0471)">60/60/45</span></div>
<div class="t" id="t162" style="left:513.00px;top:518.10px;font-size:10.5px;"><span style="transform:scaleX(0.9725)">380</span></div>
<div class="t" id="t163" style="left:620.50px;top:498.00px;font-size:10.5px;"><span style="transform:scaleX(1.0215)">10/30/5</span></div>
<div class="tt" style="left:628.3px;top:14.7px;font-size:13.4px;"><span id="title" style="transform:scaleX(0.9318)">: Going on the last page</span></div>
<div class="r" style="left:150px;top:96px;width:22px;height:18px;background:#fad8cd"></div>
<svg class="r" style="left:247px;top:266.60px" width="12" height="13" viewBox="247 267 12 13"><path d="M249.2 270.5 L256 273.3 L250.2 275.4 M256 275.0 L249.2 277.1" fill="none" stroke="#000" stroke-width="1" stroke-linecap="square"/></svg>
<svg class="r" style="left:247px;top:375.10px" width="12" height="13" viewBox="247 267 12 13"><path d="M249.2 270.5 L256 273.3 L250.2 275.4 M256 275.0 L249.2 277.1" fill="none" stroke="#000" stroke-width="1" stroke-linecap="square"/></svg>
<svg class="r" style="left:247px;top:497.60px" width="12" height="13" viewBox="247 267 12 13"><path d="M249.2 270.5 L256 273.3 L250.2 275.4 M256 275.0 L249.2 277.1" fill="none" stroke="#000" stroke-width="1" stroke-linecap="square"/></svg>
</body></html>
